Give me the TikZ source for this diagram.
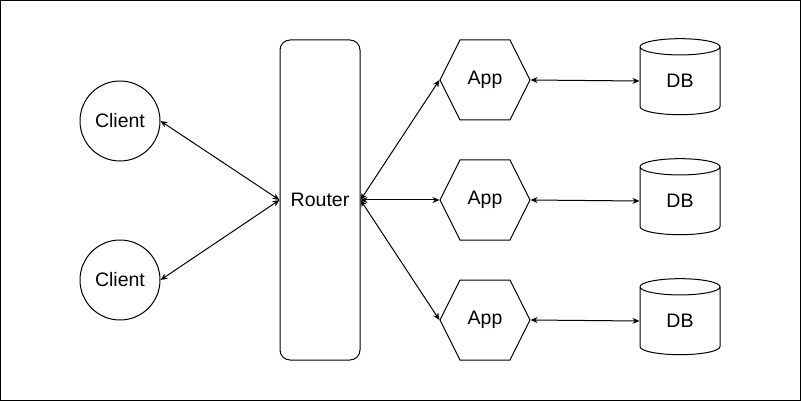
\documentclass[tikz,border=0pt]{standalone}
\usepackage{fontspec}
\setmainfont{Liberation Sans}
\usetikzlibrary{shapes.geometric,shapes.symbols,arrows.meta}

\tikzset{
    client/.style={circle, draw, line width=1pt, minimum size=80pt, inner sep=0pt},
    router/.style={rectangle, rounded corners=10pt, draw, line width=1pt,
        minimum width=80pt, minimum height=320pt, inner sep=0pt},
    app/.style={signal, signal to=east and west, signal pointer angle=126.87,
        draw, line width=1pt, minimum width=90pt, minimum height=80pt, inner sep=0pt},
    db/.style={cylinder, shape border rotate=90, aspect=0.6, draw, line width=1pt,
        minimum width=80pt, minimum height=76pt, inner sep=0pt},
    link/.style={line width=1pt, {Stealth[length=7pt,width=6pt]}-{Stealth[length=7pt,width=6pt]}}
}

\begin{document}
\begin{tikzpicture}[x=1pt,y=-1pt,font=\fontsize{19.5}{23}\selectfont]
    \useasboundingbox (0,0) rectangle (801,401);
    \draw[line width=1pt] (0.5,0.5) rectangle (800.5,400.5);

    \node[client] (c1) at (120,121) {Client};
    \node[client] (c2) at (120,280) {Client};
    \node[router] (r) at (320,200) {Router};

    \node[app] (a1) at (485,80) {App};
    \node[app] (a2) at (485,200) {App};
    \node[app] (a3) at (485,320) {App};

    \node[db] (d1) at (680,81) {DB};
    \node[db] (d2) at (680,201) {DB};
    \node[db] (d3) at (680,321) {DB};

    \draw[link] (c1.east) -- (r.west);
    \draw[link] (c2.east) -- (r.west);
    \draw[link] (r.east) -- (a1.west);
    \draw[link] (r.east) -- (a2.west);
    \draw[link] (r.east) -- (a3.west);
    \draw[link] (a1.east) -- (d1.west);
    \draw[link] (a2.east) -- (d2.west);
    \draw[link] (a3.east) -- (d3.west);
\end{tikzpicture}
\end{document}
